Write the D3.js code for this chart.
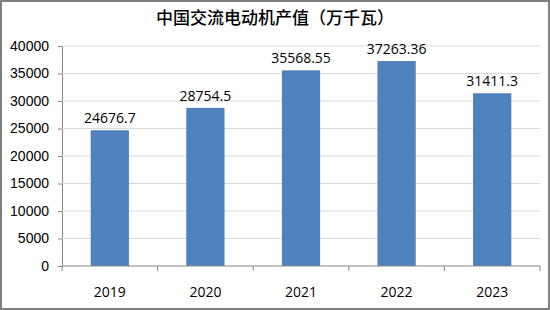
<!DOCTYPE html>
<html>
<head>
<meta charset="utf-8">
<script src="https://cdn.jsdelivr.net/npm/d3@7"></script>
<style>
  body { margin: 0; background: #fff; }
  svg { display: block; font-family: "Open Sans", "Liberation Sans", sans-serif; }
</style>
</head>
<body>
<svg width="550" height="310"></svg>
<script>
const years = ["2019", "2020", "2021", "2022", "2023"];
const values = [24676.7, 28754.5, 35568.55, 37263.36, 31411.3];
const valueLabels = ["24676.7", "28754.5", "35568.55", "37263.36", "31411.3"];
const yTicks = [0, 5000, 10000, 15000, 20000, 25000, 30000, 35000, 40000];

const svg = d3.select("svg"),
      width = +svg.attr("width"),
      height = +svg.attr("height");

const margin = { top: 46, right: 10, bottom: 44, left: 62 };

// outer frame
svg.append("rect")
  .attr("x", 1).attr("y", 1)
  .attr("width", width - 2).attr("height", height - 2)
  .attr("fill", "#fff")
  .attr("stroke", "#7f7f7f")
  .attr("stroke-width", 2);

svg.append("text")
  .attr("x", 275).attr("y", 24)
  .attr("text-anchor", "middle")
  .attr("font-family", "'Noto Sans CJK SC', sans-serif")
  .attr("font-size", 17)
  .attr("font-weight", 500)
  .attr("fill", "#000")
  .text("中国交流电动机产值（万千瓦）");

const x = d3.scaleBand()
  .domain(years)
  .range([margin.left, width - margin.right])
  .paddingInner(0.6)
  .paddingOuter(0.3);

const y = d3.scaleLinear()
  .domain([0, 40000])
  .range([height - margin.bottom, margin.top]);

// gridlines + y ticks
const yAxis = svg.append("g")
  .attr("transform", `translate(${margin.left},0)`)
  .call(d3.axisLeft(y).tickValues(yTicks).tickSize(4).tickPadding(9).tickFormat(d3.format("d")));
yAxis.select(".domain").attr("stroke", "#868686");
yAxis.selectAll(".tick line").attr("stroke", "#868686");
yAxis.selectAll(".tick text").attr("font-size", 14).attr("fill", "#000");

svg.append("g")
  .selectAll("line")
  .data(yTicks.filter(d => d > 0))
  .join("line")
  .attr("x1", margin.left).attr("x2", width - margin.right)
  .attr("y1", d => y(d)).attr("y2", d => y(d))
  .attr("stroke", "#d9d9d9");

// bars
svg.append("g")
  .selectAll("rect")
  .data(values)
  .join("rect")
  .attr("x", (d, i) => x(years[i]))
  .attr("width", x.bandwidth())
  .attr("y", d => y(d))
  .attr("height", d => y(0) - y(d))
  .attr("fill", "#4f81bd");

svg.append("g")
  .selectAll("text")
  .data(values)
  .join("text")
  .attr("x", (d, i) => x(years[i]) + x.bandwidth() / 2)
  .attr("y", d => y(d) - 7)
  .attr("text-anchor", "middle")
  .attr("font-size", 14)
  .attr("fill", "#000")
  .text((d, i) => valueLabels[i]);

// x axis with category boundary ticks
const xAxisG = svg.append("g")
  .attr("transform", `translate(0,${y(0)})`);
xAxisG.append("line")
  .attr("x1", margin.left).attr("x2", width - margin.right)
  .attr("stroke", "#868686");
xAxisG.selectAll(".bound")
  .data(d3.range(years.length + 1))
  .join("line")
  .attr("x1", i => margin.left + i * (width - margin.right - margin.left) / years.length)
  .attr("x2", i => margin.left + i * (width - margin.right - margin.left) / years.length)
  .attr("y1", 0).attr("y2", 5)
  .attr("stroke", "#868686");
xAxisG.selectAll("text")
  .data(years)
  .join("text")
  .attr("x", d => x(d) + x.bandwidth() / 2)
  .attr("y", 31)
  .attr("text-anchor", "middle")
  .attr("font-size", 14)
  .attr("fill", "#000")
  .text(d => d);
</script>
</body>
</html>
